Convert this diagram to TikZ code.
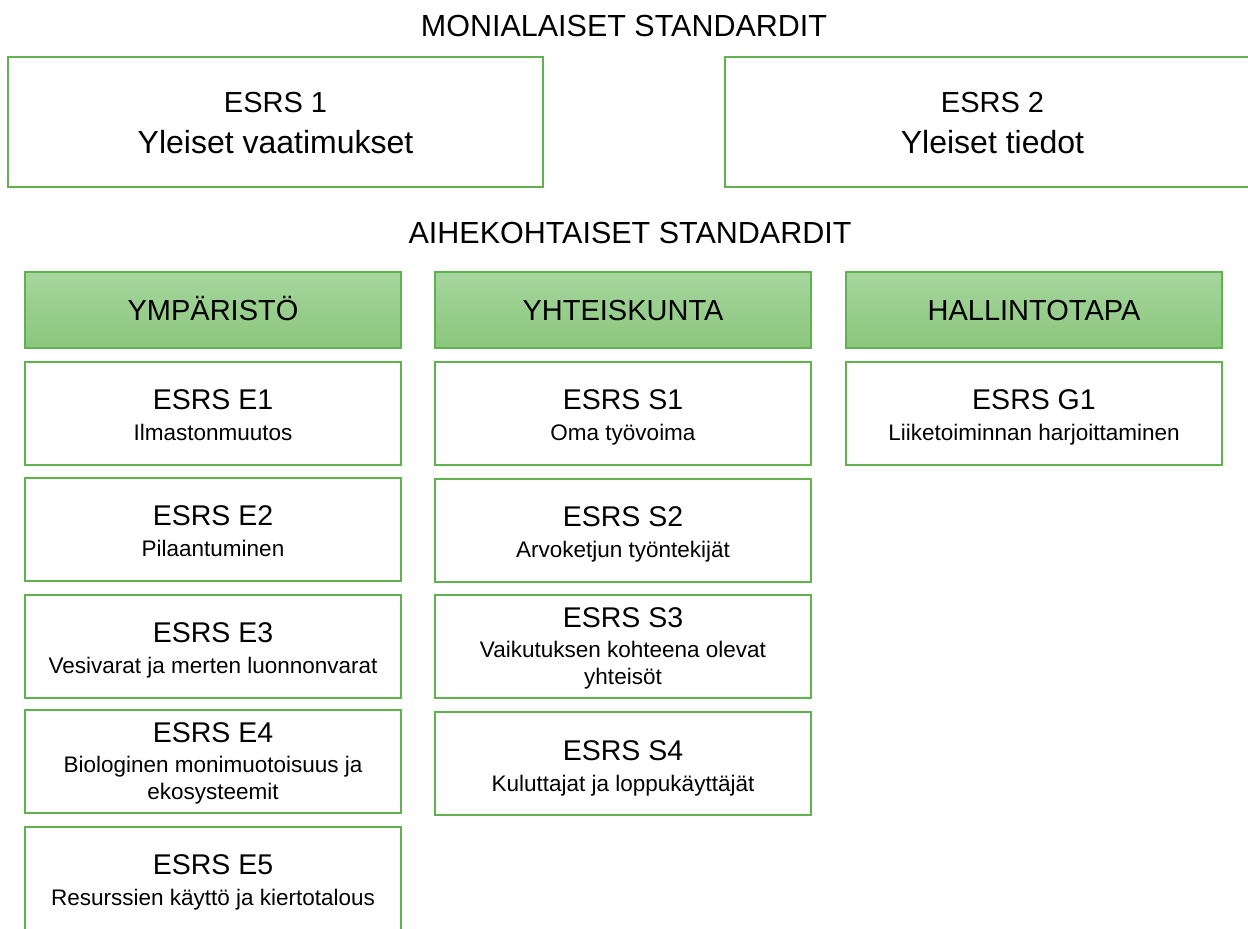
\documentclass[tikz,border=0pt]{standalone}
\usepackage{fontspec}
\setmainfont{Liberation Sans}
\usetikzlibrary{calc}
\definecolor{gborder}{RGB}{96,178,78}
\definecolor{gtop}{RGB}{166,214,158}
\definecolor{gbot}{RGB}{139,198,124}
\tikzset{
  every node/.style={inner sep=0pt, outer sep=0pt},
  stdbox/.style={draw=gborder, line width=2pt, fill=white, anchor=north west},
  hdrbox/.style={draw=gborder, line width=2pt, top color=gtop, bottom color=gbot, anchor=north west},
  bigtxt/.style={anchor=base, font=\fontsize{28.5}{30}\selectfont},
  toptxt/.style={anchor=base, font=\fontsize{29}{32}\selectfont},
  topsub/.style={anchor=base, font=\fontsize{32}{34}\selectfont},
  smalltxt/.style={anchor=base, font=\fontsize{22.5}{26}\selectfont},
  sectxt/.style={anchor=base, font=\fontsize{29}{32}\selectfont},
  titletxt/.style={anchor=base, font=\fontsize{30.5}{33}\selectfont},
}
\begin{document}
\begin{tikzpicture}[x=1pt,y=-1pt]
\useasboundingbox (0,0) rectangle (1248,929);
\begin{scope}
\clip (0,0) rectangle (1248,929);
% section titles
\node[titletxt] (t1) at (624,36) {MONIALAISET STANDARDIT};
\node[titletxt] (t2) at (630,243) {AIHEKOHTAISET STANDARDIT};
% top boxes
\node[stdbox, minimum width=535pt, minimum height=130pt] (b1) at (8,57) {};
\node[toptxt] at ($(b1.north)+(0,55)$) {ESRS 1};
\node[topsub] at ($(b1.north)+(0,96)$) {Yleiset vaatimukset};
\node[stdbox, minimum width=535pt, minimum height=130pt] (b2) at (725,57) {};
\node[toptxt] at ($(b2.north)+(0,55)$) {ESRS 2};
\node[topsub] at ($(b2.north)+(0,96)$) {Yleiset tiedot};
% headers
\node[hdrbox, minimum width=376pt, minimum height=76pt] (h1) at (25,272) {};
\node[sectxt] at ($(h1.north)+(0,48)$) {YMPÄRISTÖ};
\node[hdrbox, minimum width=376pt, minimum height=76pt] (h2) at (435,272) {};
\node[sectxt] at ($(h2.north)+(0,48)$) {YHTEISKUNTA};
\node[hdrbox, minimum width=376pt, minimum height=76pt] (h3) at (846,272) {};
\node[sectxt] at ($(h3.north)+(0,48)$) {HALLINTOTAPA};
% environment column
\node[stdbox, minimum width=376pt, minimum height=103pt] (e1) at (25,362) {};
\node[bigtxt] at ($(e1.north)+(0,47)$) {ESRS E1};
\node[smalltxt] at ($(e1.north)+(0,78)$) {Ilmastonmuutos};
\node[stdbox, minimum width=376pt, minimum height=103pt] (e2) at (25,478) {};
\node[bigtxt] at ($(e2.north)+(0,47)$) {ESRS E2};
\node[smalltxt] at ($(e2.north)+(0,78)$) {Pilaantuminen};
\node[stdbox, minimum width=376pt, minimum height=103pt] (e3) at (25,595) {};
\node[bigtxt] at ($(e3.north)+(0,47)$) {ESRS E3};
\node[smalltxt] at ($(e3.north)+(0,78)$) {Vesivarat ja merten luonnonvarat};
\node[stdbox, minimum width=376pt, minimum height=103pt] (e4) at (25,710) {};
\node[bigtxt] at ($(e4.north)+(0,32)$) {ESRS E4};
\node[smalltxt] at ($(e4.north)+(0,62)$) {Biologinen monimuotoisuus ja};
\node[smalltxt] at ($(e4.north)+(0,89)$) {ekosysteemit};
\node[stdbox, minimum width=376pt, minimum height=103pt] (e5) at (25,827) {};
\node[bigtxt] at ($(e5.north)+(0,47)$) {ESRS E5};
\node[smalltxt] at ($(e5.north)+(0,78)$) {Resurssien käyttö ja kiertotalous};
% social column
\node[stdbox, minimum width=376pt, minimum height=103pt] (s1) at (435,362) {};
\node[bigtxt] at ($(s1.north)+(0,47)$) {ESRS S1};
\node[smalltxt] at ($(s1.north)+(0,78)$) {Oma työvoima};
\node[stdbox, minimum width=376pt, minimum height=103pt] (s2) at (435,479) {};
\node[bigtxt] at ($(s2.north)+(0,47)$) {ESRS S2};
\node[smalltxt] at ($(s2.north)+(0,78)$) {Arvoketjun työntekijät};
\node[stdbox, minimum width=376pt, minimum height=103pt] (s3) at (435,595) {};
\node[bigtxt] at ($(s3.north)+(0,32)$) {ESRS S3};
\node[smalltxt] at ($(s3.north)+(0,62)$) {Vaikutuksen kohteena olevat};
\node[smalltxt] at ($(s3.north)+(0,89)$) {yhteisöt};
\node[stdbox, minimum width=376pt, minimum height=103pt] (s4) at (435,712) {};
\node[bigtxt] at ($(s4.north)+(0,48)$) {ESRS S4};
\node[smalltxt] at ($(s4.north)+(0,79)$) {Kuluttajat ja loppukäyttäjät};
% governance column
\node[stdbox, minimum width=376pt, minimum height=103pt] (g1) at (846,362) {};
\node[bigtxt] at ($(g1.north)+(0,47)$) {ESRS G1};
\node[smalltxt] at ($(g1.north)+(0,78)$) {Liiketoiminnan harjoittaminen};
\end{scope}
\end{tikzpicture}
\end{document}
